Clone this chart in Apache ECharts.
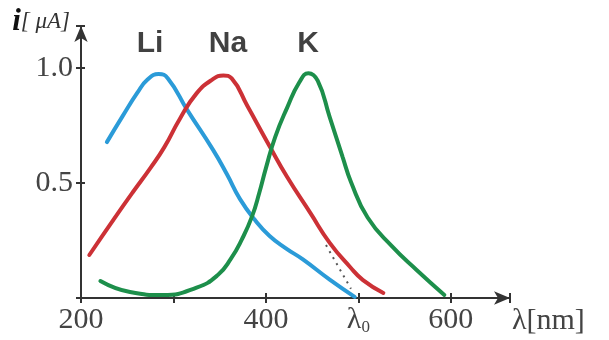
<!DOCTYPE html>
<html>
<head>
<meta charset="utf-8">
<script src="https://cdn.jsdelivr.net/npm/echarts@6/dist/echarts.min.js"></script>
<style>
  html, body { margin: 0; padding: 0; background: #fff; }
  #chart { width: 609px; height: 340px; }
</style>
</head>
<body>
<div id="chart"></div>
<script>
// photocurrent curves, [wavelength nm, current uA]
const liCurve = [
  [228, 0.678], [245, 0.791], [261, 0.893], [272, 0.950], [284, 0.974], [294, 0.955],
  [315, 0.817], [343, 0.643], [358, 0.537], [372, 0.430], [388, 0.340], [404, 0.270],
  [422, 0.215], [440, 0.168], [469, 0.080], [496, 0.005]
]
const naCurve = [
  [209, 0.187], [235, 0.340], [256, 0.460], [275, 0.565], [290, 0.655], [307, 0.780],
  [325, 0.890], [342, 0.950], [354, 0.968], [363, 0.955], [380, 0.835], [404, 0.660],
  [423, 0.526], [448, 0.370], [469, 0.240], [491, 0.135], [505, 0.078], [527, 0.022]
]
const kCurve = [
  [221, 0.074], [253, 0.026], [289, 0.013], [325, 0.045], [348, 0.100], [362, 0.170],
  [374, 0.255], [385, 0.355], [393, 0.460], [400, 0.565], [410, 0.700], [423, 0.828],
  [436, 0.937], [446, 0.978], [456, 0.945], [469, 0.787], [483, 0.613], [492, 0.505],
  [510, 0.350], [537, 0.222], [563, 0.122], [593, 0.013]
]
// dotted extension of the Na curve toward lambda0
const naTangent = [[465, 0.23], [492, 0.04]]

const curveNames = ['Li', 'Na', 'K']
const curveColors = ['#2b9bd8', '#cc3136', '#1d8f4b']
const labelPos = [[274.6, 1.104], [359, 1.104], [445.5, 1.104]]

const xTickLabels = { 200: '200', 400: '400', 500: '{l|λ}{s|0}', 600: '600' }
const yTickLabels = { 0.5: '0.5', 1: '1.0' }

const chart = echarts.init(document.getElementById('chart'))

const axisColor = '#333'
const serif = 'Liberation Serif'

const xBase = {
  type: 'value',
  min: 200,
  max: 664,
  interval: 100,
  splitLine: { show: false }
}
const yBase = {
  type: 'value',
  min: 0,
  max: 1.183,
  interval: 0.5,
  splitLine: { show: false }
}

chart.setOption({
  animation: false,
  grid: { left: 81, right: 99, top: 26, bottom: 42 },
  xAxis: [{
    ...xBase,
    name: 'λ[nm]',
    nameLocation: 'end',
    nameGap: 2,
    nameTextStyle: { fontFamily: serif, fontSize: 30, color: '#444', verticalAlign: 'top', padding: [8, 0, 0, 0] },
    axisLine: { lineStyle: { color: axisColor, width: 2 }, symbol: ['none', 'arrow'], symbolSize: [10, 16] },
    axisTick: { show: true, length: 5, lineStyle: { color: axisColor, width: 2 } },
    axisLabel: {
      margin: 7,
      fontFamily: serif, fontSize: 30, color: '#444',
      formatter: v => xTickLabels[v] || '',
      rich: {
        l: { fontFamily: serif, fontSize: 30, color: '#444' },
        s: { fontFamily: serif, fontSize: 17, color: '#444', padding: [14, 0, 0, 0] }
      }
    }
  }, {
    ...xBase,
    position: 'bottom',
    axisLine: { show: false },
    axisTick: { show: true, inside: true, length: 5, lineStyle: { color: axisColor, width: 2 } },
    axisLabel: { show: false }
  }],
  yAxis: [{
    ...yBase,
    name: '{i|i}{u|[ μA]}',
    nameLocation: 'end',
    nameGap: 4,
    nameTextStyle: {
      align: 'right', verticalAlign: 'middle', padding: [0, 11, 0, 0],
      rich: {
        i: { fontFamily: serif, fontSize: 31, fontWeight: 'bold', fontStyle: 'italic', color: '#111' },
        u: { fontFamily: serif, fontSize: 23, fontStyle: 'italic', color: '#333' }
      }
    },
    axisLine: { lineStyle: { color: axisColor, width: 2 }, symbol: ['none', 'arrow'], symbolSize: [10, 16] },
    axisTick: { show: true, length: 5, lineStyle: { color: axisColor, width: 2 } },
    axisLabel: {
      margin: 8,
      fontFamily: serif, fontSize: 30, color: '#444',
      formatter: v => yTickLabels[v] || ''
    }
  }, {
    ...yBase,
    position: 'left',
    axisLine: { show: false },
    axisTick: { show: true, inside: true, length: 4, lineStyle: { color: axisColor, width: 2 } },
    axisLabel: { show: false }
  }],
  series: [
    ...[liCurve, naCurve, kCurve].map((data, i) => ({
      name: curveNames[i],
      type: 'line',
      data,
      smooth: 0.5,
      symbol: 'none',
      lineStyle: { color: curveColors[i], width: 4, cap: 'round' }
    })),
    {
      type: 'line',
      data: naTangent,
      symbol: 'none',
      lineStyle: { color: '#555', width: 2, type: [2, 5] }
    },
    {
      type: 'scatter',
      symbolSize: 0,
      data: labelPos.map((p, i) => ({ value: p, name: curveNames[i] })),
      label: {
        show: true,
        position: 'inside',
        formatter: p => p.name,
        fontFamily: 'Liberation Sans',
        fontWeight: 'bold',
        fontSize: 30,
        color: '#111'
      }
    }
  ]
})
</script>
</body>
</html>
